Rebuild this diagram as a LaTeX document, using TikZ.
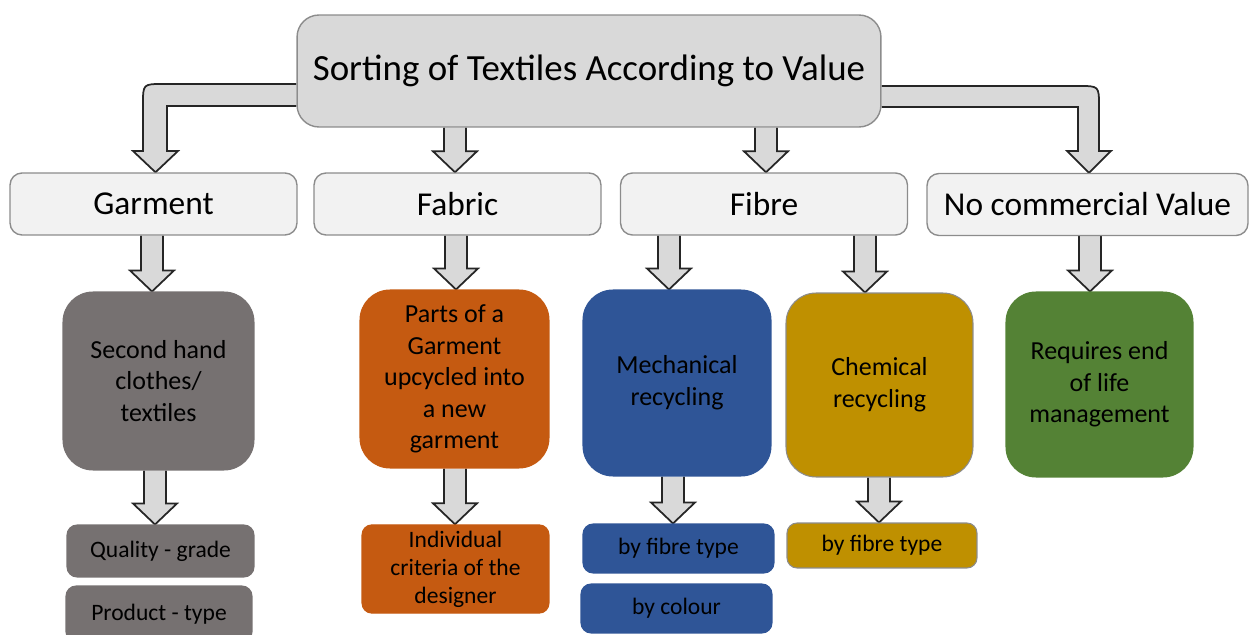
\documentclass[tikz,border=0pt]{standalone}
\usepackage{fontspec}
\setmainfont{Carlito}
\usetikzlibrary{backgrounds,calc}

\definecolor{titlegray}{HTML}{D9D9D9}
\definecolor{lightbox}{HTML}{F2F2F2}
\definecolor{boxgray}{HTML}{767171}
\definecolor{boxorange}{HTML}{C55A11}
\definecolor{boxblue}{HTML}{2F5597}
\definecolor{boxgold}{HTML}{BF9000}
\definecolor{boxgreen}{HTML}{548235}

\tikzset{
  fatarrow/.style={fill=titlegray, draw=black!85, line width=1pt, line join=miter},
  titlebox/.style={draw=black!45, line width=0.8pt, fill=titlegray, rounded corners=0.44cm,
    minimum width=11.68cm, minimum height=2.24cm, font=\fontsize{21}{25}\selectfont},
  headbox/.style={draw=black!45, line width=0.8pt, fill=lightbox, rounded corners=0.24cm,
    minimum width=5.74cm, minimum height=1.24cm, font=\fontsize{19}{23}\selectfont},
  bigbox/.style={fill=#1, draw=#1, line width=0.6pt, rounded corners=0.6cm, align=center,
    minimum width=3.76cm, minimum height=3.6cm, font=\fontsize{14.8}{18}\selectfont},
  smallbox/.style={fill=#1, draw=#1, line width=0.6pt, rounded corners=0.2cm, align=center,
    minimum width=3.76cm, minimum height=1cm, font=\fontsize{13.4}{16}\selectfont}
}

% block arrow pointing down: tip x (px), from node, to node
\newcommand{\fatdown}[3]{%
  \draw[fatarrow] let \p1=(#2.south), \p2=(#3.north) in
    (#1+11,\y1) -- (#1+11,\y2+0.42cm) -- (#1+22,\y2+0.42cm) -- (#1,\y2)
    -- (#1-22,\y2+0.42cm) -- (#1-11,\y2+0.42cm) -- (#1-11,\y1);
}

\begin{document}
\begin{tikzpicture}[x=0.02cm, y=-0.02cm]
  \useasboundingbox (0,0) rectangle (1249,635);

  % top
  \node[titlebox] (title) at (589,71) {Sorting of Textiles According to Value};

  % categories
  \node[headbox] (garment) at (153.5,204) {Garment};
  \node[headbox] (fabric) at (457.5,204) {Fabric};
  \node[headbox] (fibre) at (764,204) {Fibre};
  \node[headbox, minimum width=6.42cm] (nocomm) at (1087.5,204.5) {No commercial Value};

  % routes
  \node[bigbox=boxgray, minimum width=3.82cm, minimum height=3.56cm] (second) at (158.5,381)
    {Second hand\\clothes/\\textiles};
  \node[bigbox=boxorange, minimum width=3.78cm, minimum height=3.56cm] (parts) at (454.5,379)
    {Parts of a\\Garment\\upcycled into\\a new\\garment};
  \node[bigbox=boxblue, minimum height=3.72cm] (mech) at (677,383) {Mechanical\\recycling};
  \node[bigbox=boxgold, draw=black!45, minimum width=3.74cm, minimum height=3.68cm] (chem)
    at (879.5,385) {Chemical\\recycling};
  \node[bigbox=boxgreen, minimum width=3.74cm, minimum height=3.7cm] (requires)
    at (1099.5,384.5) {Requires end\\of life\\management};

  % criteria
  \node[smallbox=boxgray, minimum width=3.74cm, minimum height=1.04cm] (quality)
    at (160.5,551) {Quality - grade};
  \node[smallbox=boxgray, minimum width=3.72cm, minimum height=1.12cm] (product)
    at (159,614) {Product - type};
  \node[smallbox=boxorange, minimum width=3.74cm, minimum height=1.76cm] (individual)
    at (455.5,569) {Individual\\criteria of the\\designer};
  \node[smallbox=boxblue, minimum width=3.82cm, minimum height=0.98cm] (bluefibre)
    at (678.5,548.5) {by fibre type};
  \node[smallbox=boxblue, minimum width=3.82cm, minimum height=0.98cm] (colour)
    at (676.5,608.5) {by colour};
  \node[smallbox=boxgold, draw=black!45, minimum width=3.8cm, minimum height=0.9cm] (goldfibre)
    at (882,545.5) {by fibre type};

  \begin{scope}[on background layer]
    % bent arrows from the title
    \draw[fatarrow] (title.west |- 0,106) -- (167,106) -- (167,151) -- (178,151)
      -- (155.5,0 |- garment.north) -- (133,151) -- (143,151) -- (143,104)
      .. controls (143,84) .. (163,84) -- (title.west |- 0,84);
    \draw[fatarrow] (title.east |- 0,86) -- (1079,86) .. controls (1099,86) .. (1099,106)
      -- (1099,151) -- (1111,151) -- (1089,0 |- nocomm.north) -- (1067,151) -- (1078,151)
      -- (1078,107) -- (title.east |- 0,107);
    \fatdown{455}{title}{fabric}
    \fatdown{766}{title}{fibre}

    \fatdown{152}{garment}{second}
    \fatdown{456}{fabric}{parts}
    \fatdown{669}{fibre}{mech}
    \fatdown{865}{fibre}{chem}
    \fatdown{1090}{nocomm}{requires}

    \fatdown{155}{second}{quality}
    \fatdown{455}{parts}{individual}
    \fatdown{673}{mech}{bluefibre}
    \fatdown{879}{chem}{goldfibre}
  \end{scope}
\end{tikzpicture}
\end{document}
